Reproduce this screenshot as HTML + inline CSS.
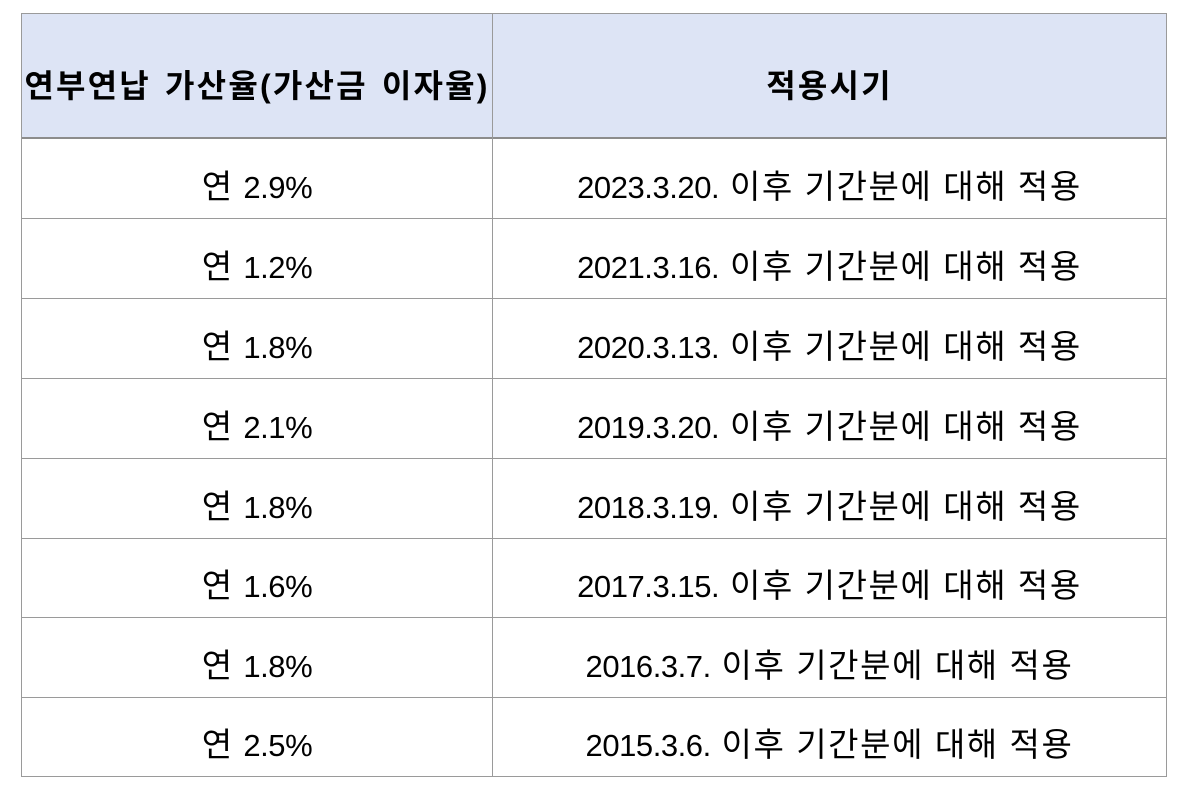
<!DOCTYPE html>
<html><head><meta charset="utf-8">
<style>
html,body{margin:0;padding:0;background:#fff;}
body{width:1189px;height:793px;position:relative;overflow:hidden;font-family:"Liberation Sans","Noto Sans CJK KR",sans-serif;color:#000;}
.hdr{position:absolute;left:21px;top:14px;width:1145px;height:124px;background:#dde4f5;}
.h{position:absolute;height:1px;background:#9a9a9a;left:21px;width:1146px;}
.v{position:absolute;width:1px;background:#9a9a9a;top:14px;height:763px;}
.t{position:absolute;height:80px;line-height:80px;text-align:center;font-size:31px;letter-spacing:-0.45px;white-space:nowrap;}
.c1{left:21px;width:472px;}
.c2{left:493px;width:673px;}
.k{font-size:33px;letter-spacing:1.6px;}
.y{font-size:33px;letter-spacing:3px;}
.b{font-weight:bold;font-size:32px;letter-spacing:0;}
.b .hk{letter-spacing:2.2px;word-spacing:3px;}
</style></head><body>
<div class="hdr"></div>
<div class="h" style="top:13px"></div>
<div class="h" style="top:137px;height:2px;background:#8c8c8c"></div>
<div class="h" style="top:218px"></div>
<div class="h" style="top:298px"></div>
<div class="h" style="top:378px"></div>
<div class="h" style="top:458px"></div>
<div class="h" style="top:538px"></div>
<div class="h" style="top:617px"></div>
<div class="h" style="top:697px"></div>
<div class="h" style="top:776px"></div>
<div class="v" style="left:21px"></div>
<div class="v" style="left:492px"></div>
<div class="v" style="left:1166px"></div>

<div class="t c1 b" style="top:46px"><span class="hk">연부연납 가산율(가산금 이자율)</span></div>
<div class="t c2 b" style="top:46px"><span class="hk">적용시기</span></div>

<div class="t c1" style="top:147px"><span class="y">연</span> 2.9%</div>
<div class="t c2" style="top:147px">2023.3.20.<span class="k"> 이후 기간분에 대해 적용</span></div>
<div class="t c1" style="top:227px"><span class="y">연</span> 1.2%</div>
<div class="t c2" style="top:227px">2021.3.16.<span class="k"> 이후 기간분에 대해 적용</span></div>
<div class="t c1" style="top:307px"><span class="y">연</span> 1.8%</div>
<div class="t c2" style="top:307px">2020.3.13.<span class="k"> 이후 기간분에 대해 적용</span></div>
<div class="t c1" style="top:387px"><span class="y">연</span> 2.1%</div>
<div class="t c2" style="top:387px">2019.3.20.<span class="k"> 이후 기간분에 대해 적용</span></div>
<div class="t c1" style="top:467px"><span class="y">연</span> 1.8%</div>
<div class="t c2" style="top:467px">2018.3.19.<span class="k"> 이후 기간분에 대해 적용</span></div>
<div class="t c1" style="top:546px"><span class="y">연</span> 1.6%</div>
<div class="t c2" style="top:546px">2017.3.15.<span class="k"> 이후 기간분에 대해 적용</span></div>
<div class="t c1" style="top:626px"><span class="y">연</span> 1.8%</div>
<div class="t c2" style="top:626px">2016.3.7.<span class="k"> 이후 기간분에 대해 적용</span></div>
<div class="t c1" style="top:705px"><span class="y">연</span> 2.5%</div>
<div class="t c2" style="top:705px">2015.3.6.<span class="k"> 이후 기간분에 대해 적용</span></div>
</body></html>
